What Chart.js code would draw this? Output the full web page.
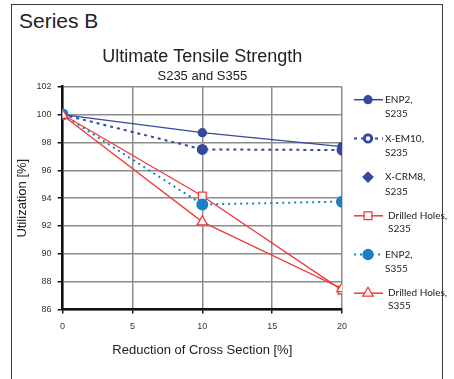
<!DOCTYPE html>
<html>
<head>
<meta charset="utf-8">
<title>Series B</title>
<script src="https://cdn.jsdelivr.net/npm/chart.js@4.4.1/dist/chart.umd.min.js"></script>
<style>
    html, body { margin: 0; padding: 0; background: #fff; overflow: hidden; }
    #wrap { position: relative; width: 454px; height: 379px; }
    #frame {
        position: absolute; left: 11px; top: 4px; width: 432px; height: 400px;
        border: 1.5px solid #3c3c3c; box-sizing: border-box;
    }
    #series {
        position: absolute; left: 19px; top: 10px;
        font: 21px/21px "Liberation Sans", Arial, sans-serif; color: #222;
    }
    canvas { position: absolute; left: 0; top: 0; }
</style>
</head>
<body>
<div id="wrap">
    <div id="frame"></div>
    <div id="series">Series B</div>
    <canvas id="chart" width="454" height="379"></canvas>
</div>
<script>
// data
const xValues = [0, 10, 20];
const enp2S235 = [100, 98.7, 97.7];
const xem10S235 = [100, 97.5, 97.45];
const xcrm8S235 = [100, null, null];
const drilledS235 = [100, 94.15, 87.4];
const enp2S355 = [100, 93.55, 93.75];
const drilledS355 = [99.95, 92.3, 87.5];

const seriesLabels = [
    ['ENP2,', 'S235'],
    ['X-EM10,', 'S235'],
    ['X-CRM8,', 'S235'],
    ['Drilled Holes,', 'S235'],
    ['ENP2,', 'S355'],
    ['Drilled Holes,', 'S355'],
];
const yMin = 86, yMax = 102, yStep = 2;
const xMin = 0, xMax = 20, xStep = 5;

const darkBlue = '#34489c';
const lightBlue = '#1b80c8';
const red = '#f03a3a';
const fontMain = '"Liberation Sans", Arial, sans-serif';

const toPoints = (ys) => xValues.map((x, i) => ({ x: x, y: ys[i] }));

const datasets = [
    { data: toPoints(enp2S235), borderColor: darkBlue, backgroundColor: darkBlue, borderWidth: 1.3,
      pointStyle: 'circle', pointRadius: 4 },
    { data: toPoints(xem10S235), borderColor: darkBlue, backgroundColor: darkBlue, borderWidth: 2,
      borderDash: [3, 4], pointStyle: 'circle', pointRadius: 4.5 },
    { data: toPoints(xcrm8S235), borderColor: darkBlue, backgroundColor: darkBlue, showLine: false,
      pointStyle: 'rectRot', pointRadius: 5 },
    { data: toPoints(drilledS235), borderColor: red, backgroundColor: '#fff', borderWidth: 1.3,
      pointStyle: 'rect', pointRadius: 5.5, pointBorderWidth: 1.3 },
    { data: toPoints(enp2S355), borderColor: lightBlue, backgroundColor: lightBlue, borderWidth: 2,
      borderDash: [2, 4], pointStyle: 'circle', pointRadius: 5 },
    { data: toPoints(drilledS355), borderColor: red, backgroundColor: '#fff', borderWidth: 1.3,
      pointStyle: 'triangle', pointRadius: 6, pointBorderWidth: 1.3 },
];
datasets.forEach((ds, i) => {
    ds.label = seriesLabels[i].join(' ');
    ds.order = datasets.length - 1 - i; // later series on top
    ds.pointBorderColor = ds.borderColor;
    ds.pointBackgroundColor = ds.backgroundColor;
    ds.fill = false;
    ds.tension = 0;
});

// legend drawn next to the plot, line + marker + two-line label
function drawMarker(ctx, style, x, y, r, stroke, fill) {
    ctx.save();
    ctx.beginPath();
    if (style === 'circle') {
        ctx.arc(x, y, r, 0, Math.PI * 2);
    } else if (style === 'rect') {
        const s = r * Math.SQRT1_2;
        ctx.rect(x - s, y - s, 2 * s, 2 * s);
    } else if (style === 'rectRot') {
        ctx.moveTo(x, y - r); ctx.lineTo(x + r, y); ctx.lineTo(x, y + r); ctx.lineTo(x - r, y);
        ctx.closePath();
    } else if (style === 'triangle') {
        ctx.moveTo(x - r * Math.sin(Math.PI / 3), y + r * 0.5);
        ctx.lineTo(x, y - r);
        ctx.lineTo(x + r * Math.sin(Math.PI / 3), y + r * 0.5);
        ctx.closePath();
    }
    ctx.fillStyle = fill;
    ctx.fill();
    ctx.lineWidth = 1.3;
    ctx.strokeStyle = stroke;
    ctx.stroke();
    ctx.restore();
}

const sideLegend = {
    id: 'sideLegend',
    afterDraw(chart) {
        const ctx = chart.ctx;
        const area = chart.chartArea;
        const mx = area.right + 26;
        ctx.save();
        chart.data.datasets.forEach((ds, i) => {
            const y = area.top + 13 + i * 38.7;
            if (ds.showLine !== false) {
                ctx.save();
                ctx.strokeStyle = ds.borderColor;
                ctx.lineWidth = ds.borderWidth === 2 ? 2 : 1.5;
                ctx.setLineDash(ds.borderDash || []);
                ctx.beginPath();
                ctx.moveTo(mx - 14, y);
                ctx.lineTo(mx + 15, y);
                ctx.stroke();
                ctx.restore();
            }
            drawMarker(ctx, ds.pointStyle, mx, y, ds.pointRadius, ds.borderColor, ds.backgroundColor);
            if (i === 1) drawMarker(ctx, 'circle', mx, y, 1.6, '#fff', '#fff');
            const drilled = seriesLabels[i][0].startsWith('Drilled');
            ctx.fillStyle = '#222';
            ctx.font = '10px Lato, "Liberation Sans", sans-serif';
            ctx.textBaseline = 'middle';
            ctx.textAlign = 'left';
            const tx = mx + (drilled ? 20 : 17);
            const gap = drilled ? 12.5 : 14.5;
            seriesLabels[i].forEach((line, k) => ctx.fillText(line, tx, y + k * gap));
        });
        ctx.restore();
    }
};

const tickLabelFont = { family: fontMain, size: 9 };

new Chart(document.getElementById('chart'), {
    type: 'line',
    data: { datasets: datasets },
    options: {
        responsive: false,
        animation: false,
        devicePixelRatio: 1,
        layout: { padding: { left: 15, right: 112, top: 46, bottom: 19 } },
        plugins: {
            legend: { display: false },
            tooltip: { enabled: false },
            title: {
                display: true,
                text: 'Ultimate Tensile Strength',
                fullSize: false,
                color: '#222',
                font: { family: fontMain, size: 18, weight: 'normal' },
                padding: { top: 0, bottom: 0 },
            },
            subtitle: {
                display: true,
                text: 'S235 and S355',
                fullSize: false,
                color: '#222',
                font: { family: fontMain, size: 13, weight: 'normal' },
                padding: { top: 1.5, bottom: 2 },
            },
        },
        scales: {
            x: {
                type: 'linear',
                min: xMin,
                max: xMax,
                ticks: { stepSize: xStep, color: '#333', font: tickLabelFont, padding: 8, maxRotation: 0 },
                grid: { color: '#8c8c8c', lineWidth: 1.5, tickColor: '#111', tickLength: 4, tickWidth: 1.5 },
                border: { color: '#111', width: 2.5 },
                title: {
                    display: true,
                    text: 'Reduction of Cross Section [%]',
                    color: '#222',
                    font: { family: fontMain, size: 13 },
                    padding: { top: 2, bottom: 2 },
                },
            },
            y: {
                min: yMin,
                max: yMax,
                ticks: { stepSize: yStep, color: '#333', font: tickLabelFont, padding: 6 },
                grid: { color: '#8c8c8c', lineWidth: 1.5, tickColor: '#111', tickLength: 5, tickWidth: 1.5 },
                border: { color: '#111', width: 2.5 },
                title: {
                    display: true,
                    text: 'Utilization [%]',
                    color: '#222',
                    font: { family: fontMain, size: 13 },
                    padding: { top: 0, bottom: 0 },
                },
            },
        },
    },
    plugins: [sideLegend],
});
</script>
</body>
</html>
